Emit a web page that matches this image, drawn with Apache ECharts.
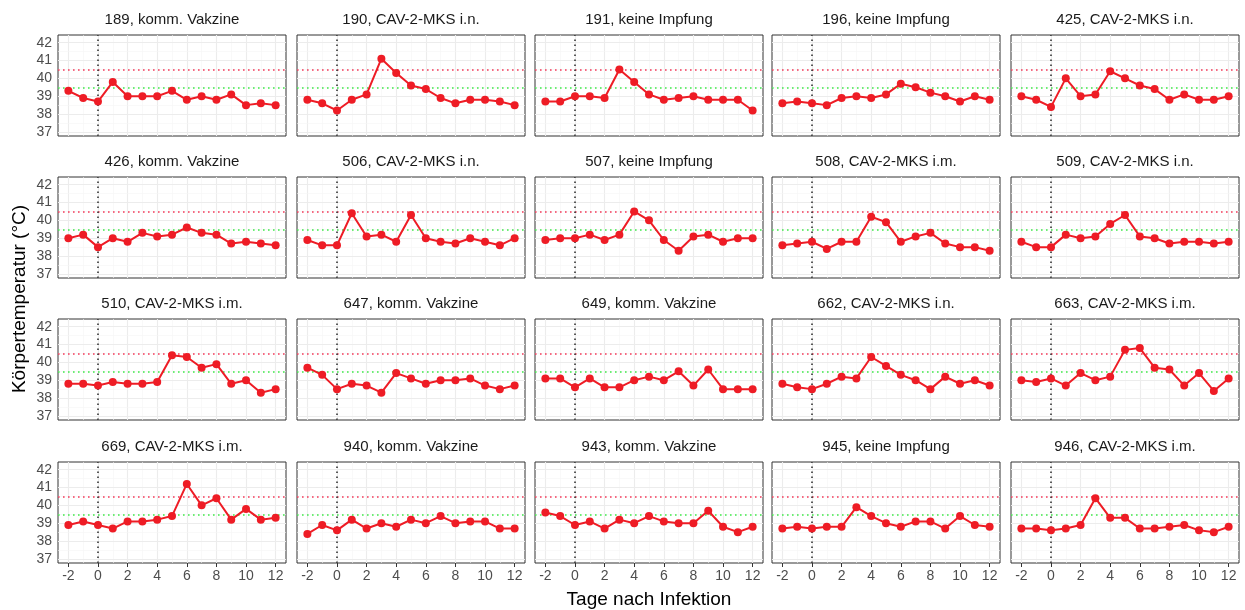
<!DOCTYPE html>
<html>
<head>
<meta charset="utf-8">
<script src="https://cdn.jsdelivr.net/npm/echarts@6/dist/echarts.min.js"></script>
<style>html,body{margin:0;padding:0;background:#fff;}#c{width:1245px;height:610px;}</style>
</head>
<body>
<div id="c"></div>
<script>
// ---- data ----
const days = [-2,-1,0,1,2,3,4,5,6,7,8,9,10,11,12];
const xTicks = [-2,0,2,4,6,8,10,12];
const yTicks = [37,38,39,40,41,42];
const panelTitles = [
  '189, komm. Vakzine','190, CAV-2-MKS i.n.','191, keine Impfung','196, keine Impfung','425, CAV-2-MKS i.n.',
  '426, komm. Vakzine','506, CAV-2-MKS i.n.','507, keine Impfung','508, CAV-2-MKS i.m.','509, CAV-2-MKS i.n.',
  '510, CAV-2-MKS i.m.','647, komm. Vakzine','649, komm. Vakzine','662, CAV-2-MKS i.n.','663, CAV-2-MKS i.m.',
  '669, CAV-2-MKS i.m.','940, komm. Vakzine','943, komm. Vakzine','945, keine Impfung','946, CAV-2-MKS i.m.'
];
const t189 = [39.3,38.9,38.7,39.8,39.0,39.0,39.0,39.3,38.8,39.0,38.8,39.1,38.5,38.6,38.5];
const t190 = [38.8,38.6,38.2,38.8,39.1,41.1,40.3,39.6,39.4,38.9,38.6,38.8,38.8,38.7,38.5];
const t191 = [38.7,38.7,39.0,39.0,38.9,40.5,39.8,39.1,38.8,38.9,39.0,38.8,38.8,38.8,38.2];
const t196 = [38.6,38.7,38.6,38.5,38.9,39.0,38.9,39.1,39.7,39.5,39.2,39.0,38.7,39.0,38.8];
const t425 = [39.0,38.8,38.4,40.0,39.0,39.1,40.4,40.0,39.6,39.4,38.8,39.1,38.8,38.8,39.0];
const t426 = [39.0,39.2,38.5,39.0,38.8,39.3,39.1,39.2,39.6,39.3,39.2,38.7,38.8,38.7,38.6];
const t506 = [38.9,38.6,38.6,40.4,39.1,39.2,38.8,40.3,39.0,38.8,38.7,39.0,38.8,38.6,39.0];
const t507 = [38.9,39.0,39.0,39.2,38.9,39.2,40.5,40.0,38.9,38.3,39.1,39.2,38.8,39.0,39.0];
const t508 = [38.6,38.7,38.8,38.4,38.8,38.8,40.2,39.9,38.8,39.1,39.3,38.7,38.5,38.5,38.3];
const t509 = [38.8,38.5,38.5,39.2,39.0,39.1,39.8,40.3,39.1,39.0,38.7,38.8,38.8,38.7,38.8];
const t510 = [38.8,38.8,38.7,38.9,38.8,38.8,38.9,40.4,40.3,39.7,39.9,38.8,39.0,38.3,38.5];
const t647 = [39.7,39.3,38.5,38.8,38.7,38.3,39.4,39.1,38.8,39.0,39.0,39.1,38.7,38.5,38.7];
const t649 = [39.1,39.1,38.6,39.1,38.6,38.6,39.0,39.2,39.0,39.5,38.7,39.6,38.5,38.5,38.5];
const t662 = [38.8,38.6,38.5,38.8,39.2,39.1,40.3,39.8,39.3,39.0,38.5,39.2,38.8,39.0,38.7];
const t663 = [39.0,38.9,39.1,38.7,39.4,39.0,39.2,40.7,40.8,39.7,39.6,38.7,39.4,38.4,39.1];
const t669 = [38.9,39.1,38.9,38.7,39.1,39.1,39.2,39.4,41.2,40.0,40.4,39.2,39.8,39.2,39.3];
const t940 = [38.4,38.9,38.6,39.2,38.7,39.0,38.8,39.2,39.0,39.4,39.0,39.1,39.1,38.7,38.7];
const t943 = [39.6,39.4,38.9,39.1,38.7,39.2,39.0,39.4,39.1,39.0,39.0,39.7,38.8,38.5,38.8];
const t945 = [38.7,38.8,38.7,38.8,38.8,39.9,39.4,39.0,38.8,39.1,39.1,38.7,39.4,38.9,38.8];
const t946 = [38.7,38.7,38.6,38.7,38.9,40.4,39.3,39.3,38.7,38.7,38.8,38.9,38.6,38.5,38.8];
const panelTemps = [t189,t190,t191,t196,t425,t426,t506,t507,t508,t509,t510,t647,t649,t662,t663,t669,t940,t943,t945,t946];
const feverLine = 40.5, normLine = 39.5, infectionDay = 0;

// ---- layout ----
const FONT = '"Liberation Sans", Arial, Helvetica, sans-serif';
const W = 228, H = 101;
const lefts = [58, 297, 535, 772, 1011];
const tops = [35, 177, 319, 462];

const grids = [], xAxes = [], yAxes = [], series = [], graphics = [];
const minorX = [-1,1,3,5,7,9,11];
const minorY = [37.5,38.5,39.5,40.5,41.5];

for (let i = 0; i < panelTitles.length; i++) {
  const r = Math.floor(i / 5), c = i % 5;
  grids.push({left: lefts[c], top: tops[r], width: W, height: H, show: true,
    borderColor: '#333', borderWidth: 1, backgroundColor: '#fff'});
  xAxes.push({gridIndex: i, type: 'value', min: -2.7, max: 12.7,
    splitLine: {show: false}, axisLine: {show: false},
    axisTick: {show: r === 3, customValues: xTicks, length: 4, lineStyle: {color: '#333', width: 1}},
    axisLabel: {show: r === 3, customValues: xTicks, margin: 6, fontSize: 14, color: '#4d4d4d', fontFamily: FONT}});
  yAxes.push({gridIndex: i, type: 'value', min: 36.77, max: 42.43,
    splitLine: {show: false}, axisLine: {show: false},
    axisTick: {show: c === 0, customValues: yTicks, length: 4, lineStyle: {color: '#333', width: 1}},
    axisLabel: {show: c === 0, customValues: yTicks, margin: 6, fontSize: 14, color: '#4d4d4d', fontFamily: FONT}});
  const pts = days.map((d, k) => [d, panelTemps[i][k]]);
  const grid = [], refs = [];
  xTicks.forEach(v => grid.push({xAxis: v, lineStyle: {color: '#ececec', width: 1.1, type: 'solid'}}));
  minorX.forEach(v => grid.push({xAxis: v, lineStyle: {color: '#f5f5f5', width: 0.6, type: 'solid'}}));
  yTicks.forEach(v => grid.push({yAxis: v, lineStyle: {color: '#ececec', width: 1.1, type: 'solid'}}));
  minorY.forEach(v => grid.push({yAxis: v, lineStyle: {color: '#f5f5f5', width: 0.6, type: 'solid'}}));
  refs.push({yAxis: feverLine, lineStyle: {color: '#f23a5a', width: 1.6, type: [1.6, 3.4]}});
  refs.push({yAxis: normLine, lineStyle: {color: '#3fe84a', width: 1.6, type: [1.6, 3.4]}});
  refs.push({xAxis: infectionDay, lineStyle: {color: '#333', width: 1.6, type: [1.6, 3.4]}});
  series.push({type: 'line', xAxisIndex: i, yAxisIndex: i, data: pts, showSymbol: false, silent: true,
    lineStyle: {opacity: 0}, z: 1,
    markLine: {silent: true, z: 1, symbol: ['none', 'none'], label: {show: false}, animation: false, data: grid}});
  series.push({type: 'line', xAxisIndex: i, yAxisIndex: i, data: pts, showSymbol: false, silent: true,
    lineStyle: {opacity: 0}, z: 2,
    markLine: {silent: true, z: 2, symbol: ['none', 'none'], label: {show: false}, animation: false, data: refs}});
  series.push({type: 'line', xAxisIndex: i, yAxisIndex: i, data: pts, symbol: 'circle', symbolSize: 8,
    itemStyle: {color: '#ee1c25'}, lineStyle: {color: '#ee1c25', width: 2}, z: 10});
  graphics.push({type: 'text', x: lefts[c] + W / 2, y: tops[r] - 15, silent: true,
    style: {text: panelTitles[i], fontSize: 15, fontFamily: FONT, fill: '#1a1a1a', textAlign: 'center', textVerticalAlign: 'middle'}});
}
graphics.push({type: 'text', x: 649, y: 600, silent: true,
  style: {text: 'Tage nach Infektion', fontSize: 19, fontFamily: FONT, fill: '#000', textAlign: 'center', textVerticalAlign: 'middle'}});
graphics.push({type: 'text', x: 20, y: 299, rotation: Math.PI / 2, silent: true,
  style: {text: 'Körpertemperatur (°C)', fontSize: 19, fontFamily: FONT, fill: '#000', textAlign: 'center', textVerticalAlign: 'middle'}});

const chart = echarts.init(document.getElementById('c'), null, {renderer: 'canvas'});
chart.setOption({
  animation: false,
  backgroundColor: '#fff',
  grid: grids, xAxis: xAxes, yAxis: yAxes, series: series, graphic: graphics
});
</script>
</body>
</html>
